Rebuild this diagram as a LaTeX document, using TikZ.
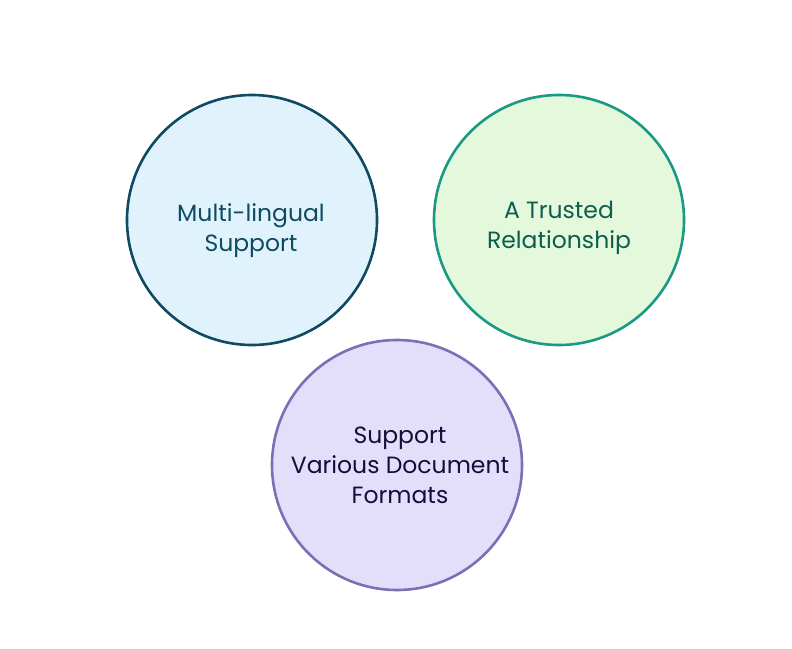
\documentclass[tikz,border=0pt]{standalone}
\usepackage{fontspec}
\setmainfont{Poppins}
\definecolor{bfill}{HTML}{E0F3FC}
\definecolor{bline}{HTML}{0E4B62}
\definecolor{gfill}{HTML}{E4F8DC}
\definecolor{gline}{HTML}{1B9985}
\definecolor{gtext}{HTML}{0D5E4E}
\definecolor{pfill}{HTML}{E3DFFA}
\definecolor{pline}{HTML}{7D6FB6}
\definecolor{ptext}{HTML}{150D3A}
\begin{document}
\begin{tikzpicture}[x=1pt,y=-1pt,
  bubble/.style={circle, minimum size=250pt, inner sep=0pt, line width=2.6pt},
  lbl/.style={align=center, inner sep=0pt, font=\fontsize{23.5}{30}\selectfont}]
\useasboundingbox (0,0) rectangle (792,648);
\node[bubble, draw=bline, fill=bfill] (ml) at (252,220) {};
\node[lbl, text=bline] (mlt) at (251,231) {Multi-lingual\\Support};
\node[bubble, draw=gline, fill=gfill] (tr) at (559,220) {};
\node[lbl, text=gtext] (trt) at (559,228) {A Trusted\\Relationship};
\node[bubble, draw=pline, fill=pfill] (sv) at (397,465) {};
\node[lbl, text=ptext] (svt) at (400,465) {Support\\Various Document\\Formats};
\end{tikzpicture}
\end{document}
